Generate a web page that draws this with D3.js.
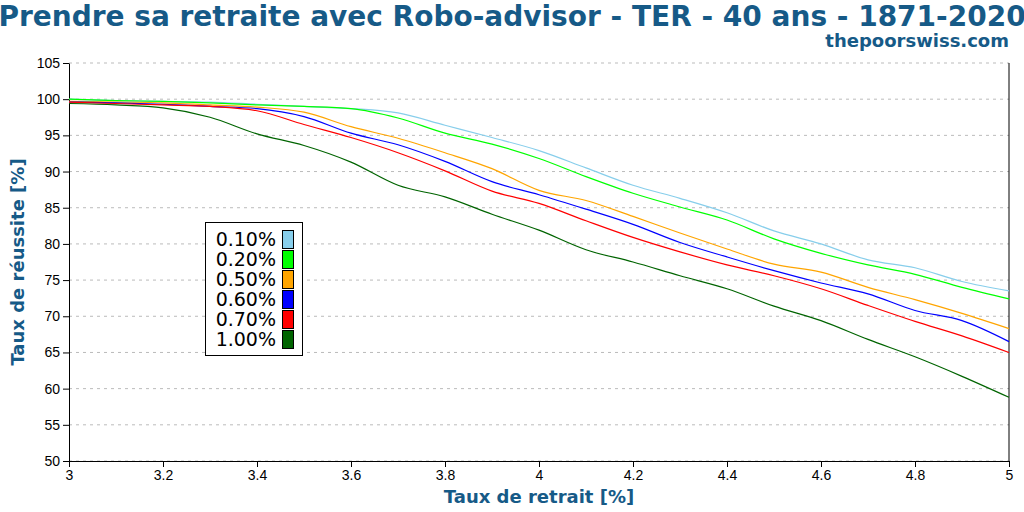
<!DOCTYPE html>
<html><head><meta charset="utf-8">
<script src="https://cdn.jsdelivr.net/npm/d3@7"></script>
<style>body{margin:0;background:#fff}</style>
</head><body><div id="chart"></div>
<script>
const rates = [3.0,3.1,3.2,3.3,3.4,3.5,3.6,3.7,3.8,3.9,4.0,4.1,4.2,4.3,4.4,4.5,4.6,4.7,4.8,4.9,5.0];
const ter010 = [100,99.8,99.7,99.6,99.3,99.0,98.7,98.1,96.4,94.7,92.9,90.5,88.1,86.3,84.3,81.8,80.0,77.8,76.7,74.8,73.5];
const ter020 = [100,99.8,99.7,99.5,99.2,99.0,98.7,97.4,95.3,93.8,91.8,89.3,87.0,85.1,83.3,80.7,78.7,77.1,75.8,74.0,72.4];
const ter050 = [99.7,99.6,99.5,99.2,98.9,98.2,96.2,94.6,92.6,90.4,87.4,86.0,83.8,81.5,79.3,77.2,76.1,74.0,72.3,70.4,68.3];
const ter060 = [99.6,99.5,99.3,99.0,98.7,97.6,95.3,93.7,91.4,88.6,86.8,84.8,82.7,80.2,78.2,76.3,74.6,73.1,70.8,69.4,66.5];
const ter070 = [99.6,99.4,99.2,99.0,98.4,96.5,94.7,92.6,90.1,87.3,85.6,83.2,80.9,78.9,77.1,75.6,73.8,71.5,69.3,67.3,65.0];
const ter100 = [99.4,99.2,98.8,97.5,95.2,93.6,91.3,88.1,86.5,84.1,81.9,79.2,77.5,75.6,73.8,71.4,69.4,66.8,64.4,61.7,58.8];
const seriesNames = ["0.10%","0.20%","0.50%","0.60%","0.70%","1.00%"];
const seriesValues = [ter010, ter020, ter050, ter060, ter070, ter100];
const colors = ["#87ceeb","#00ff00","#ffa500","#0000ff","#ff0000","#006400"];
const xTicks = [3,3.2,3.4,3.6,3.8,4,4.2,4.4,4.6,4.8,5];
const yTicks = [50,55,60,65,70,75,80,85,90,95,100,105];

const W = 1024, H = 512, blue = "#165a87";
const svg = d3.select("#chart").append("svg").attr("width", W).attr("height", H)
  .style("font-family", "DejaVu Sans, sans-serif");
const x = d3.scaleLinear().domain([3,5]).range([69,1009]);
const y = d3.scaleLinear().domain([50,105]).range([461,63]);

svg.append("g").selectAll("line").data(yTicks).join("line")
  .attr("x1", 69).attr("x2", 1009).attr("y1", d => y(d)).attr("y2", d => y(d))
  .attr("stroke", "#bbb").attr("stroke-dasharray", "3,4");

svg.append("g").attr("transform", "translate(0,461)")
  .call(d3.axisBottom(x).tickValues(xTicks).tickFormat(d3.format("")).tickSizeOuter(0))
  .call(g => g.selectAll("text").attr("font-size", 14).attr("fill", "#000"));
svg.append("g").attr("transform", "translate(69,0)")
  .call(d3.axisLeft(y).tickValues(yTicks).tickSizeOuter(0))
  .call(g => g.selectAll("text").attr("font-size", 14).attr("fill", "#000"));
svg.append("line").attr("x1", 1009).attr("x2", 1009).attr("y1", 63).attr("y2", 461).attr("stroke", "#000");

const line = d3.line().x((d, i) => x(rates[i])).y(d => y(d)).curve(d3.curveMonotoneX);
seriesValues.forEach((vals, i) => {
  svg.append("path").datum(vals).attr("d", line).attr("fill", "none")
    .attr("stroke", colors[i]).attr("stroke-width", 1.2);
});

svg.append("text").attr("x", 512).attr("y", 26).attr("text-anchor", "middle")
  .attr("font-size", 28).attr("font-weight", "bold").attr("fill", blue)
  .text("Prendre sa retraite avec Robo-advisor - TER - 40 ans - 1871-2020");
svg.append("text").attr("x", 1009).attr("y", 47).attr("text-anchor", "end")
  .attr("font-size", 18).attr("font-weight", "bold").attr("fill", blue).text("thepoorswiss.com");
svg.append("text").attr("x", 539).attr("y", 503).attr("text-anchor", "middle")
  .attr("font-size", 18).attr("font-weight", "bold").attr("fill", blue).text("Taux de retrait [%]");
svg.append("text").attr("transform", "translate(24,262) rotate(-90)").attr("text-anchor", "middle")
  .attr("font-size", 18).attr("font-weight", "bold").attr("fill", blue).text("Taux de réussite [%]");

const lg = svg.append("g");
lg.append("rect").attr("x", 205.5).attr("y", 222.5).attr("width", 97).attr("height", 133)
  .attr("fill", "#fff").attr("stroke", "#000");
seriesNames.forEach((n, i) => {
  const yy = 240 + i * 20;
  lg.append("text").attr("x", 276).attr("y", yy + 6).attr("text-anchor", "end")
    .attr("font-size", 19).text(n);
  lg.append("rect").attr("x", 282.5).attr("y", yy - 9.5).attr("width", 11).attr("height", 18)
    .attr("fill", colors[i]).attr("stroke", "#000");
});
</script></body></html>
